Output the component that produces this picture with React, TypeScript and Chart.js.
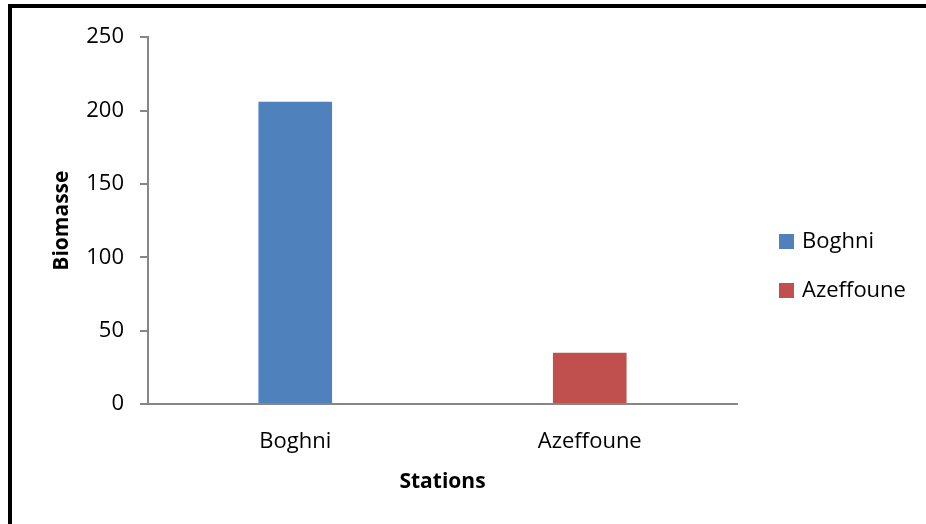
import React, { useEffect, useRef } from "react";
import { Chart, registerables } from "chart.js";

Chart.register(...registerables);

// Biomass by station
const stations = ["Boghni", "Azeffoune"];
const boghniValues = [206, null];
const azeffouneValues = [null, 35];
const yTicks = [0, 50, 100, 150, 200, 250];

const BLUE = "#4F81BD";
const RED = "#C0504D";
const AXIS_GREY = "#868686";
const FONT = "'Open Sans', 'Noto Sans', sans-serif";

// Legend on the right, drawn from the dataset labels and colours,
// vertically centred on the canvas.
const sideLegend = {
  id: "sideLegend",
  afterDraw(chart: any) {
    const { ctx, chartArea } = chart;
    const items = chart.data.datasets;
    const box = 15;
    const gap = 49;
    const x = chartArea.right + 42;
    const midY = chart.height / 2;
    const firstY = midY - ((items.length - 1) * gap) / 2;
    ctx.save();
    ctx.font = `22px ${FONT}`;
    ctx.textBaseline = "middle";
    ctx.textAlign = "left";
    items.forEach((ds: any, i: number) => {
      const cy = firstY + i * gap;
      ctx.fillStyle = ds.backgroundColor;
      ctx.fillRect(x, Math.round(cy - box / 2), box, box);
      ctx.fillStyle = "#000";
      ctx.fillText(ds.label, x + box + 8, cy);
    });
    ctx.restore();
  },
};

export default function App() {
  const canvasRef = useRef<HTMLCanvasElement | null>(null);

  useEffect(() => {
    if (!canvasRef.current) return;
    const chart = new Chart(canvasRef.current, {
      type: "bar",
      data: {
        labels: stations,
        datasets: [
          { label: "Boghni", data: boghniValues, backgroundColor: BLUE },
          { label: "Azeffoune", data: azeffouneValues, backgroundColor: RED },
        ],
      },
      options: {
        responsive: false,
        animation: false,
        devicePixelRatio: 1,
        skipNull: true,
        categoryPercentage: 1,
        barPercentage: 0.25,
        layout: { padding: { top: 28, right: 189, bottom: 0, left: 0 } },
        plugins: {
          tooltip: { enabled: false },
          legend: { display: false },
        },
        scales: {
          x: {
            grid: { display: false },
            border: { color: AXIS_GREY, width: 2 },
            ticks: { color: "#000", font: { family: FONT, size: 22 }, padding: 17 },
            title: {
              display: true,
              text: "Stations",
              color: "#000",
              font: { family: FONT, size: 21, weight: "bold" },
              padding: { top: 0, bottom: 29 },
            },
            afterFit: (scale: any) => {
              scale.height = 120;
            },
          },
          y: {
            min: 0,
            max: 250,
            afterBuildTicks: (scale: any) => {
              scale.ticks = yTicks.map((v) => ({ value: v }));
            },
            grid: {
              drawOnChartArea: false,
              drawTicks: true,
              tickLength: 8,
              color: AXIS_GREY,
              lineWidth: 2,
            },
            border: { color: AXIS_GREY, width: 2 },
            ticks: { color: "#000", font: { family: FONT, size: 22 }, padding: 16 },
            title: {
              display: true,
              text: "Biomasse",
              color: "#000",
              font: { family: FONT, size: 21, weight: "bold" },
              padding: { top: 37, bottom: 0 },
            },
            afterFit: (scale: any) => {
              scale.width = 136;
            },
          },
        },
      },
      plugins: [sideLegend],
    });
    return () => chart.destroy();
  }, []);

  return (
    <div style={{ position: "absolute", left: 0, top: 0, width: 926, height: 524, background: "#fff", overflow: "hidden" }}>
      <div
        style={{
          position: "absolute",
          left: 8,
          top: 4,
          width: 918,
          height: 520,
          borderLeft: "4px solid #000",
          borderTop: "4px solid #000",
          boxSizing: "border-box",
        }}
      />
      <canvas
        ref={canvasRef}
        width={914}
        height={516}
        style={{ position: "absolute", left: 12, top: 8, width: 914, height: 516 }}
      />
    </div>
  );
}
